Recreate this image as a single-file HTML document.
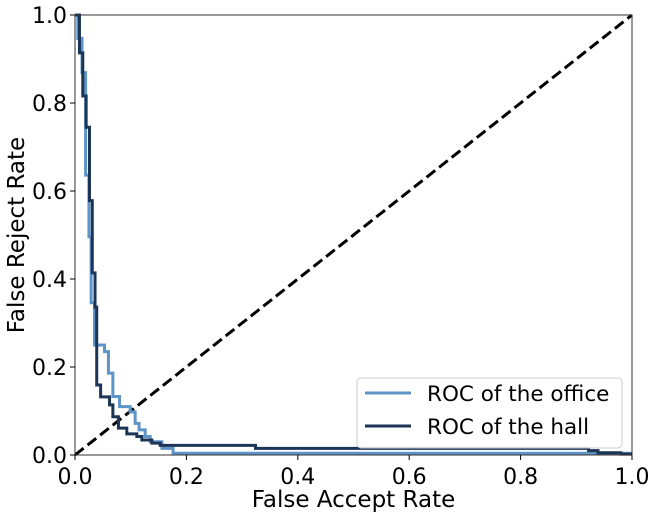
<!DOCTYPE html>
<html><head><meta charset="utf-8"><style>
body{margin:0;background:#fff}
svg{display:block;font-family:"DejaVu Sans","Liberation Sans",sans-serif}
</style></head><body>
<svg id="chart" width="657" height="519"></svg>
<script>
const xTicks=[0,0.2,0.4,0.6,0.8,1.0];
const yTicks=[0,0.2,0.4,0.6,0.8,1.0];
const tickLabels=["0.0","0.2","0.4","0.6","0.8","1.0"];
const officeFar=[0,0.005,0.0126,0.019,0.025,0.029,0.035,0.053,0.060,0.068,0.080,0.099,0.108,0.115,0.126,0.135,0.156,0.176,1.0];
const officeFrr=[1.0,0.947,0.869,0.636,0.496,0.346,0.25,0.235,0.186,0.133,0.110,0.098,0.072,0.057,0.042,0.030,0.015,0.004,0.004];
const hallFar=[0,0.008,0.014,0.020,0.026,0.031,0.036,0.039,0.046,0.062,0.068,0.078,0.093,0.111,0.120,0.138,0.153,0.324,0.922,0.939,0.98,1.0];
const hallFrr=[1.0,0.914,0.816,0.745,0.578,0.414,0.336,0.159,0.132,0.114,0.087,0.061,0.048,0.042,0.034,0.027,0.022,0.015,0.010,0.005,0.002,0.002];
const X0=75,X1=632,Y0=455,Y1=15;
const sx=v=>X0+v*(X1-X0), sy=v=>Y0-v*(Y0-Y1);
const svg=document.getElementById('chart');
const NS='http://www.w3.org/2000/svg';
function mk(t,a,p){const e=document.createElementNS(NS,t);for(const k in a)e.setAttribute(k,a[k]);(p||svg).appendChild(e);return e;}
function stepPath(xs,ys){let d='M'+sx(xs[0])+','+sy(ys[0]);for(let i=1;i<xs.length;i++){d+=' H'+sx(xs[i])+' V'+sy(ys[i]);}return d;}
let diag=mk('line',{x1:sx(0),y1:sy(0),x2:sx(1),y2:sy(1),stroke:'#000','stroke-width':3,'stroke-dasharray':'11,5'});


let po=mk('path',{d:stepPath(officeFar,officeFrr),fill:'none',stroke:'#5f94c8','stroke-width':3});


let ph=mk('path',{d:stepPath(hallFar,hallFrr),fill:'none',stroke:'#1c3557','stroke-width':3});


let fr=mk('rect',{x:X0,y:Y1,width:X1-X0,height:Y0-Y1,fill:'none',stroke:'#333','stroke-width':1});


xTicks.forEach((v,i)=>{
  mk('line',{x1:sx(v),y1:Y0,x2:sx(v),y2:Y0+5,stroke:'#000'});
  const t=mk('text',{x:sx(v),y:Y0+29,'text-anchor':'middle','font-size':22});
  t.textContent=tickLabels[i];
  
  
});
yTicks.forEach((v,i)=>{
  mk('line',{x1:X0-5,y1:sy(v),x2:X0,y2:sy(v),stroke:'#000'});
  const t=mk('text',{x:X0-8,y:sy(v)+8,'text-anchor':'end','font-size':22});
  t.textContent=tickLabels[i];
  
  
});
let xl=mk('text',{x:(X0+X1)/2,y:507,'text-anchor':'middle','font-size':23});
xl.textContent='False Accept Rate';


let yl=mk('text',{x:0,y:0,'text-anchor':'middle','font-size':23,transform:'translate(24,235) rotate(-90)'});
yl.textContent='False Reject Rate';


let lg=mk('g',{});


mk('rect',{x:357,y:378,width:265,height:70,rx:4,fill:'#fff','fill-opacity':0.85,stroke:'#ccc'},lg);
mk('line',{x1:365,y1:393,x2:411,y2:393,stroke:'#5f94c8','stroke-width':3},lg);
mk('line',{x1:365,y1:426,x2:411,y2:426,stroke:'#1c3557','stroke-width':3},lg);
let l1=mk('text',{x:427,y:401,'font-size':21.5},lg);l1.textContent='ROC of the office';


let l2=mk('text',{x:427,y:434,'font-size':21.5},lg);l2.textContent='ROC of the hall';


</script>
</body></html>
